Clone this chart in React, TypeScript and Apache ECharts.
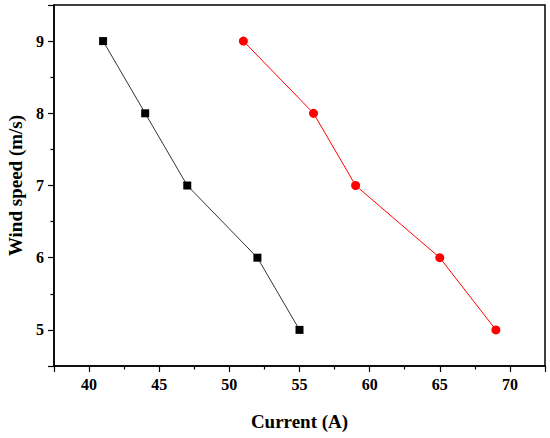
import React, { useEffect, useRef } from "react";
import * as echarts from "echarts";

const windSpeed = [9, 8, 7, 6, 5];
const currentBlack = [41, 44, 47, 52, 55];
const currentRed = [51, 56, 59, 65, 69];

const FONT = "'Liberation Serif', serif";

export default function App() {
  const ref = useRef<HTMLDivElement>(null);
  useEffect(() => {
    document.body.style.margin = "0";
    if (!ref.current) return;
    const chart = echarts.init(ref.current, undefined, { renderer: "svg" });
    const axisCommon = {
      axisLine: { show: true, lineStyle: { color: "#000", width: 1.5 } },
      axisTick: { show: true, inside: false, length: 6, lineStyle: { color: "#000", width: 1.2 } },
      minorTick: { show: true, splitNumber: 2, length: 3.5, lineStyle: { color: "#000", width: 1.2 } },
      splitLine: { show: false },
      minorSplitLine: { show: false },
      nameTextStyle: { color: "#000", fontFamily: FONT, fontWeight: "bold", fontSize: 19 },
    };
    const labelCommon = { color: "#000", fontFamily: FONT, fontWeight: "bold", fontSize: 16, margin: 10 };
    chart.setOption({
      animation: false,
      backgroundColor: "#fff",
      grid: {
        left: 54,
        right: 5,
        top: 5,
        bottom: 72,
        containLabel: false,
        outerBoundsMode: "none",
        show: true,
        borderColor: "#000",
        borderWidth: 1.5,
        backgroundColor: "transparent",
      },
      xAxis: {
        type: "value",
        min: 37.5,
        max: 72.5,
        splitNumber: 7,
        minInterval: 5,
        maxInterval: 5,
        ...axisCommon,
        axisLabel: {
          ...labelCommon,
          showMinLabel: false,
          showMaxLabel: false,
          formatter: (v: number) => (v % 5 === 0 ? String(v) : ""),
        },
        name: "Current (A)",
        nameLocation: "middle",
        nameGap: 46,
      },
      yAxis: {
        type: "value",
        min: 4.5,
        max: 9.5,
        splitNumber: 5,
        minInterval: 1,
        maxInterval: 1,
        ...axisCommon,
        axisLabel: {
          ...labelCommon,
          showMinLabel: false,
          showMaxLabel: false,
          formatter: (v: number) => (Number.isInteger(v) ? String(v) : ""),
        },
        name: "Wind speed (m/s)",
        nameLocation: "middle",
        nameGap: 29,
      },
      series: [
        {
          type: "line",
          data: currentBlack.map((c, i) => [c, windSpeed[i]]),
          symbol: "rect",
          symbolSize: 8,
          itemStyle: { color: "#000" },
          lineStyle: { color: "#333", width: 1 },
        },
        {
          type: "line",
          data: currentRed.map((c, i) => [c, windSpeed[i]]),
          symbol: "circle",
          symbolSize: 9,
          itemStyle: { color: "#ff0000" },
          lineStyle: { color: "#ff0000", width: 1 },
        },
      ],
    });
    return () => chart.dispose();
  }, []);
  return <div ref={ref} style={{ width: 550, height: 438 }} />;
}
